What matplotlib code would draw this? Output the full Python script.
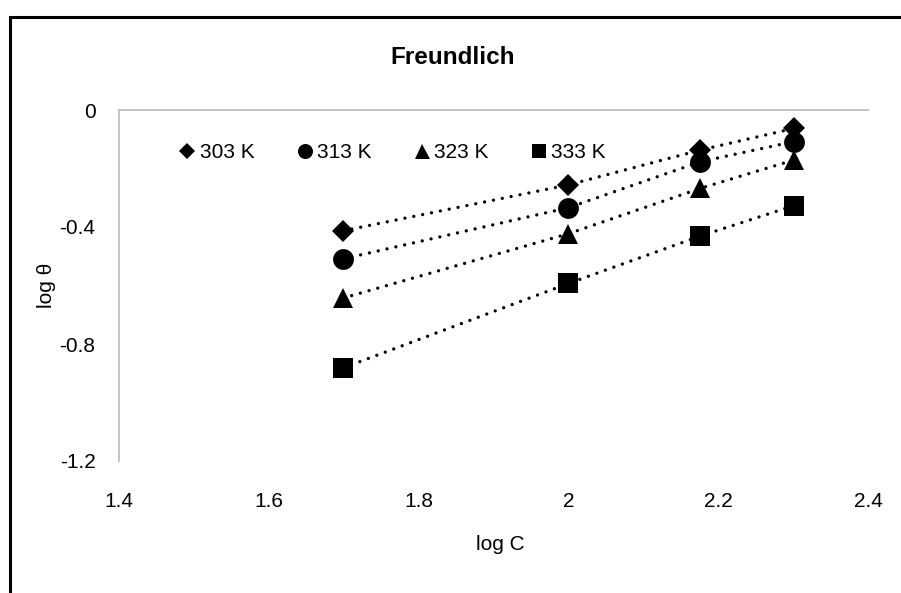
import matplotlib

matplotlib.use("Agg")
import matplotlib.pyplot as plt
from matplotlib.lines import Line2D
from matplotlib.patches import Rectangle

plt.rcParams["font.family"] = ["Liberation Sans Narrow", "Liberation Sans", "DejaVu Sans"]

# Freundlich isotherm: log C vs log theta at four temperatures
log_c = [1.699, 2.0, 2.176, 2.301]
temps = ["303 K", "313 K", "323 K", "333 K"]
log_theta_303 = [-0.413, -0.256, -0.137, -0.063]
log_theta_313 = [-0.509, -0.334, -0.177, -0.108]
log_theta_323 = [-0.643, -0.423, -0.268, -0.171]
log_theta_333 = [-0.882, -0.593, -0.431, -0.327]

x_ticks = [1.4, 1.6, 1.8, 2.0, 2.2, 2.4]
x_tick_labels = ["1.4", "1.6", "1.8", "2", "2.2", "2.4"]
y_ticks = [0, -0.4, -0.8, -1.2]
y_tick_labels = ["0", "-0.4", "-0.8", "-1.2"]

W, H = 901, 593
fig = plt.figure(figsize=(W / 100, H / 100), dpi=100)

# chart border (cropped on the right and bottom, like the source)
fig.patches.append(Rectangle((10 / W, -0.05), 1.1, 1 - 17 / H + 0.05,
                             transform=fig.transFigure, fill=False,
                             edgecolor="black", linewidth=2.2, zorder=0))

ax = fig.add_axes([119 / W, 1 - 461 / H, (868 - 119) / W, (461 - 110) / H])

series = [
    (log_theta_303, "D", 11.5),
    (log_theta_313, "o", 15),
    (log_theta_323, "^", 15),
    (log_theta_333, "s", 14.5),
]
handles = []
for (values, marker, size), label in zip(series, temps):
    ax.plot(log_c, values, color="black", linewidth=2.4,
            linestyle=(0, (0.01, 2.7)), dash_capstyle="round",
            marker=marker, markersize=size, markeredgewidth=0, zorder=3)
    handles.append(Line2D([], [], color="black", linestyle="none", marker=marker,
                          markersize=size * 0.72, markeredgewidth=0, label=label))

ax.set_xlim(1.4, 2.4)
ax.set_ylim(-1.2, 0)
ax.set_xticks(x_ticks)
ax.set_xticklabels(x_tick_labels)
ax.set_yticks(y_ticks)
ax.set_yticklabels(y_tick_labels)
ax.tick_params(length=0, labelsize=15, colors="black")
ax.tick_params(axis="x", pad=22)
ax.tick_params(axis="y", pad=17)
for side in ("bottom", "right"):
    ax.spines[side].set_visible(False)
for side in ("left", "top"):
    ax.spines[side].set_color("#bfbfbf")
    ax.spines[side].set_linewidth(1.3)

ax.legend(handles=handles, ncol=4, loc="center left", frameon=False,
          bbox_to_anchor=(179 / W, 1 - 153 / H), bbox_transform=fig.transFigure,
          fontsize=15, handlelength=0.8, handletextpad=0.2, columnspacing=2.0,
          borderpad=0, borderaxespad=0)

fig.text(453 / W, 1 - 57 / H, "Freundlich", ha="center", va="center",
         fontsize=17.5, fontweight="bold")
fig.text(46 / W, 1 - 285 / H, "log θ", ha="center", va="center",
         fontsize=15, rotation=90)
fig.text(500 / W, 1 - 545 / H, "log C", ha="center", va="center", fontsize=15)

fig.savefig("out.png", dpi=100)
